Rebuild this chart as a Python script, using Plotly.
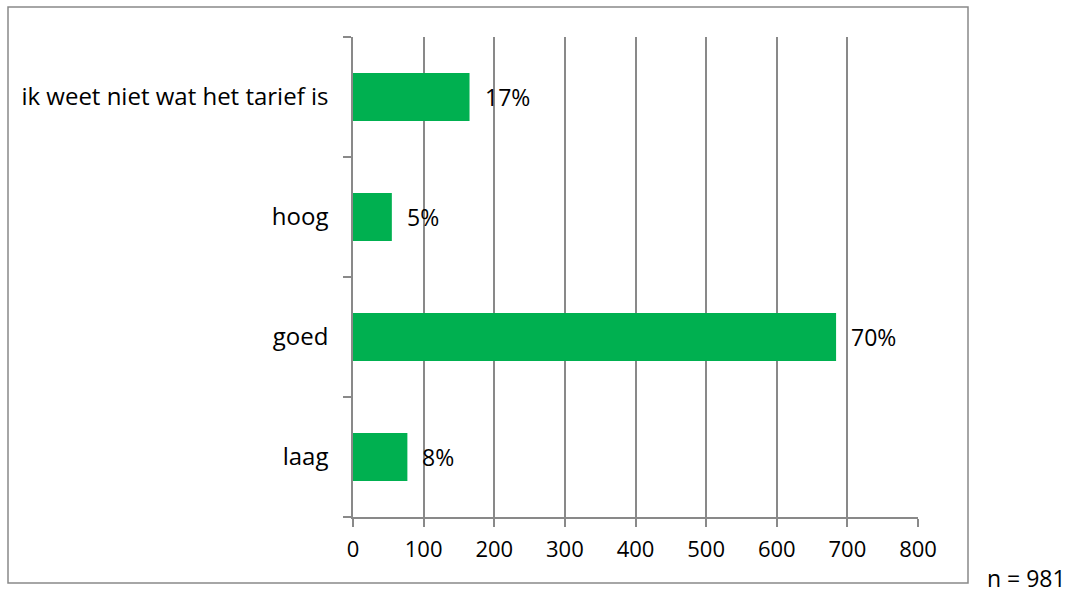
import plotly.graph_objects as go

categories = ["laag", "goed", "hoog", "ik weet niet wat het tarief is"]
counts = [77, 684, 55, 165]
pct_labels = ["8%", "70%", "5%", "17%"]
x_ticks = [0, 100, 200, 300, 400, 500, 600, 700, 800]
note = "n = 981"

FONT = "Open Sans"
GRAY = "#898989"
GREEN = "#00B050"

fig = go.Figure()
fig.add_trace(go.Bar(
    y=categories, x=counts, orientation="h",
    marker=dict(color=GREEN, line=dict(width=0)),
    width=0.4, showlegend=False, hoverinfo="x+y",
))

annotations = []
for c, v, t in zip(categories, counts, pct_labels):
    annotations.append(dict(x=v, y=c, xref="x", yref="y", text=t, showarrow=False,
                            xanchor="left", yanchor="middle", xshift=13,
                            font=dict(family=FONT, size=23, color="#000")))
annotations.append(dict(x=1.0, y=0, xref="paper", yref="paper", text=note,
                        showarrow=False, xanchor="left", yanchor="middle",
                        xshift=67, yshift=-61,
                        font=dict(family=FONT, size=23, color="#000")))

fig.update_layout(
    width=1083, height=593,
    margin=dict(l=353, r=165, t=37, b=76, pad=0),
    paper_bgcolor="white", plot_bgcolor="white",
    font=dict(family=FONT, size=22, color="#000"),
    annotations=annotations,
    bargap=0.6,
    xaxis=dict(range=[0, 800], tickvals=x_ticks, ticktext=[str(v) for v in x_ticks],
               showgrid=True, gridcolor=GRAY, gridwidth=1.5,
               showline=True, linecolor=GRAY, linewidth=1.5,
               ticks="outside", ticklen=8, tickcolor=GRAY, tickwidth=1.5,
               zeroline=False, ticklabelstandoff=4,
               tickfont=dict(family=FONT, size=22, color="#000")),
    yaxis=dict(categoryorder="array", categoryarray=categories,
               showgrid=False, showline=True, linecolor=GRAY, linewidth=1.5,
               ticks="outside", ticklen=8, tickcolor=GRAY, tickwidth=1.5,
               tickson="boundaries", ticklabelstandoff=18,
               tickfont=dict(family=FONT, size=24, color="#000")),
    shapes=[dict(type="rect", xref="paper", yref="paper",
                 x0=(8 - 353) / 565, x1=(968 - 353) / 565,
                 y0=(593 - 76 - 583) / 480, y1=(593 - 76 - 7) / 480,
                 line=dict(color=GRAY, width=1.5), fillcolor="rgba(0,0,0,0)",
                 layer="below")],
)

fig.write_html("out.html", config={"displayModeBar": False})

# remove the default page margin so the figure sits at the window's top-left corner
with open("out.html", "r", encoding="utf-8") as f:
    html = f.read()
html = html.replace("<body>", '<body style="margin:0;padding:0;overflow:hidden">', 1)
with open("out.html", "w", encoding="utf-8") as f:
    f.write(html)
